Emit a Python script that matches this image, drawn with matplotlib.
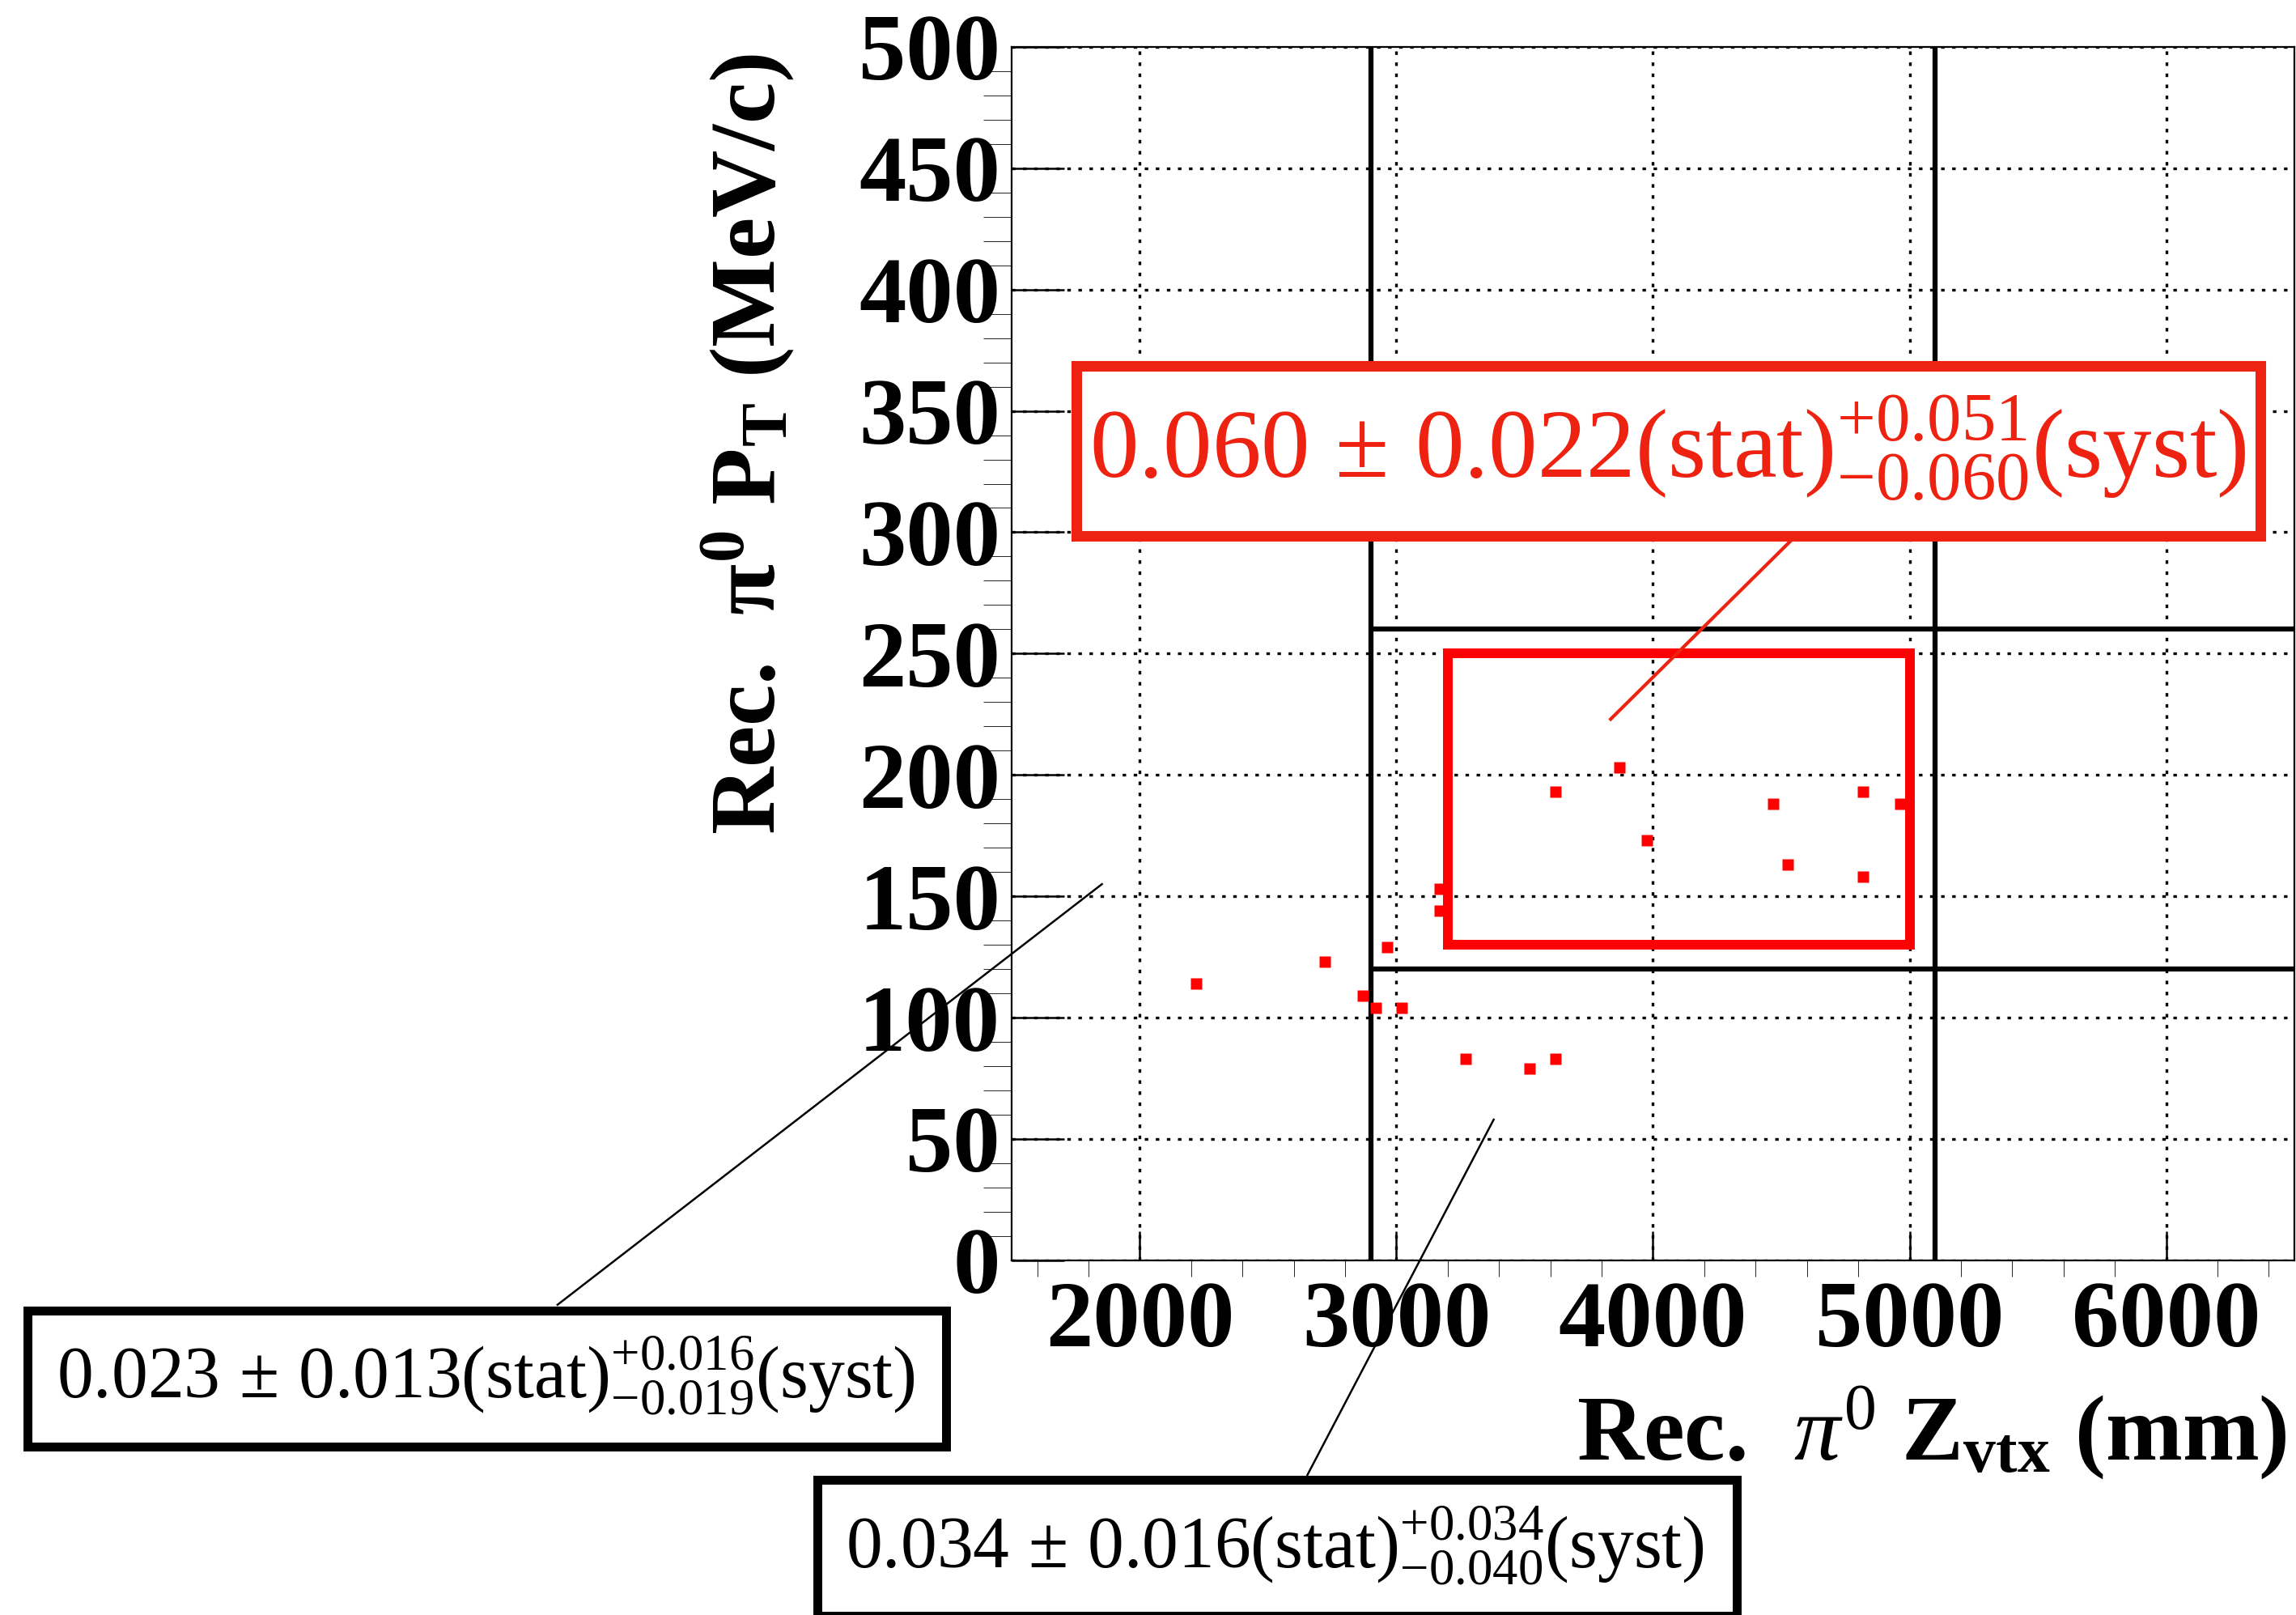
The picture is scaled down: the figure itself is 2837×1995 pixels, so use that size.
import matplotlib

matplotlib.use("Agg")
import matplotlib.pyplot as plt
from matplotlib.patches import Rectangle
from matplotlib.ticker import MultipleLocator

# reconstructed pi0 candidates: Z_vtx (mm), P_T (MeV/c)
z_vtx = [2220, 2720, 2870, 2920, 2965, 3020, 3170, 3170, 3270, 3520,
         3620, 3620, 3870, 3975, 4470, 4525, 4820, 4820, 4965]
pt = [114, 123, 109, 104, 129, 104, 153, 144, 83, 79,
      83, 193, 203, 173, 188, 163, 193, 158, 188]

# region boundaries
cut_z = [2900, 5100]
cut_pt = [120, 260]
sig_z = [3200, 5000]
sig_pt = [130, 250]

x_ticks = [2000, 3000, 4000, 5000, 6000]
y_ticks = [0, 50, 100, 150, 200, 250, 300, 350, 400, 450, 500]
x_range = [1500, 6500]
y_range = [0, 500]

x_title = r"Rec.  $\pi^{0}$ Z$_{\mathbf{vtx}}$ (mm)"
y_title = r"Rec.  $\mathbf{\pi^{0}}$ P$_{\mathbf{T}}$ (MeV/c)"

res_signal = r"$0.060\,\pm\,0.022(\mathrm{stat})^{+0.051}_{-0.060}(\mathrm{syst})$"
res_low = r"$0.023\,\pm\,0.013(\mathrm{stat})^{+0.016}_{-0.019}(\mathrm{syst})$"
res_mid = r"$0.034\,\pm\,0.016(\mathrm{stat})^{+0.034}_{-0.040}(\mathrm{syst})$"

RED = "#ff0000"
TXT_RED = "#ee2211"

plt.rcParams["font.family"] = "Liberation Serif"
plt.rcParams["mathtext.fontset"] = "custom"
plt.rcParams["mathtext.rm"] = "Liberation Serif"
plt.rcParams["mathtext.it"] = "Liberation Serif:italic"
plt.rcParams["mathtext.bf"] = "Liberation Serif:bold"

fig = plt.figure(figsize=(28.37, 19.95), dpi=100)
ax = fig.add_axes([0.4406, 0.2196, 0.5587, 0.7514])
ax.set_xlim(*x_range)
ax.set_ylim(*y_range)

ax.set_xticks(x_ticks)
ax.set_xticklabels([str(v) for v in x_ticks], fontsize=84, fontweight="bold")
ax.set_yticks(y_ticks)
ax.set_yticklabels([str(v) for v in y_ticks], fontsize=84, fontweight="bold")
ax.xaxis.set_minor_locator(MultipleLocator(200))
ax.yaxis.set_minor_locator(MultipleLocator(10))
ax.tick_params(direction="in", top=False, right=False, width=1.8)
ax.tick_params(axis="x", which="major", length=26, pad=18)
ax.tick_params(axis="x", which="minor", length=14.5)
ax.tick_params(axis="y", which="major", length=47, pad=10)
ax.tick_params(axis="y", which="minor", length=25)
for sp in ax.spines.values():
    sp.set_linewidth(1.6)

ax.grid(True, which="major", color="black", lw=2.4, linestyle=(0, (1.3, 2.8)))
ax.set_axisbelow(True)

# cut lines
for z in cut_z:
    ax.axvline(z, color="black", lw=4.5, zorder=3)
ax.hlines(cut_pt, cut_z[0], x_range[1], color="black", lw=4.5, zorder=3)

# signal box
ax.add_patch(Rectangle((sig_z[0], sig_pt[0]), sig_z[1] - sig_z[0], sig_pt[1] - sig_pt[0],
                       fill=False, edgecolor=RED, lw=8.6, joinstyle="miter", zorder=4))

ax.plot(z_vtx, pt, ls="none", marker="s", ms=9.8, mfc=RED, mec="none", zorder=5)

# leader lines from result boxes to regions
ax.plot([4542, 3835], [297, 223], color=TXT_RED, lw=3.0, clip_on=False, zorder=6)
ax.plot([1852, -270], [155, -18.3], color="black", lw=1.8, clip_on=False, zorder=6)
ax.plot([3379, 2653], [58, -88.4], color="black", lw=1.8, clip_on=False, zorder=6)

# axis titles
fig.text(0.9961, 1 - 1803 / 1995, x_title, fontsize=82, fontweight="bold",
         ha="right", va="baseline")
fig.text(957 / 2837, 1 - 549 / 1995, y_title, fontsize=83, fontweight="bold",
         ha="center", va="baseline", rotation=90, rotation_mode="anchor")

# result boxes
boxes = [
    (res_signal, TXT_RED, 87, 9.4, (0.46863, 0.66842, 0.51569, 0.10526), (0.7263, 0.70426)),
    (res_low, "black", 64.5, 7.9, (0.01216, 0.10451, 0.39972, 0.08421), (0.2115, 0.13434)),
    (res_mid, "black", 64.5, 7.9, (0.35601, -0.0005, 0.40042, 0.08421), (0.5553, 0.02957)),
]
for txt, col, fs, lw, (bx, by, bw, bh), (tx, ty) in boxes:
    fig.add_artist(Rectangle((bx, by), bw, bh, transform=fig.transFigure,
                             facecolor="white", edgecolor=col, lw=lw,
                             joinstyle="miter", zorder=7))
    fig.text(tx, ty, txt, fontsize=fs, color=col, ha="center", va="baseline", zorder=8)

fig.savefig("out.png", dpi=100)
